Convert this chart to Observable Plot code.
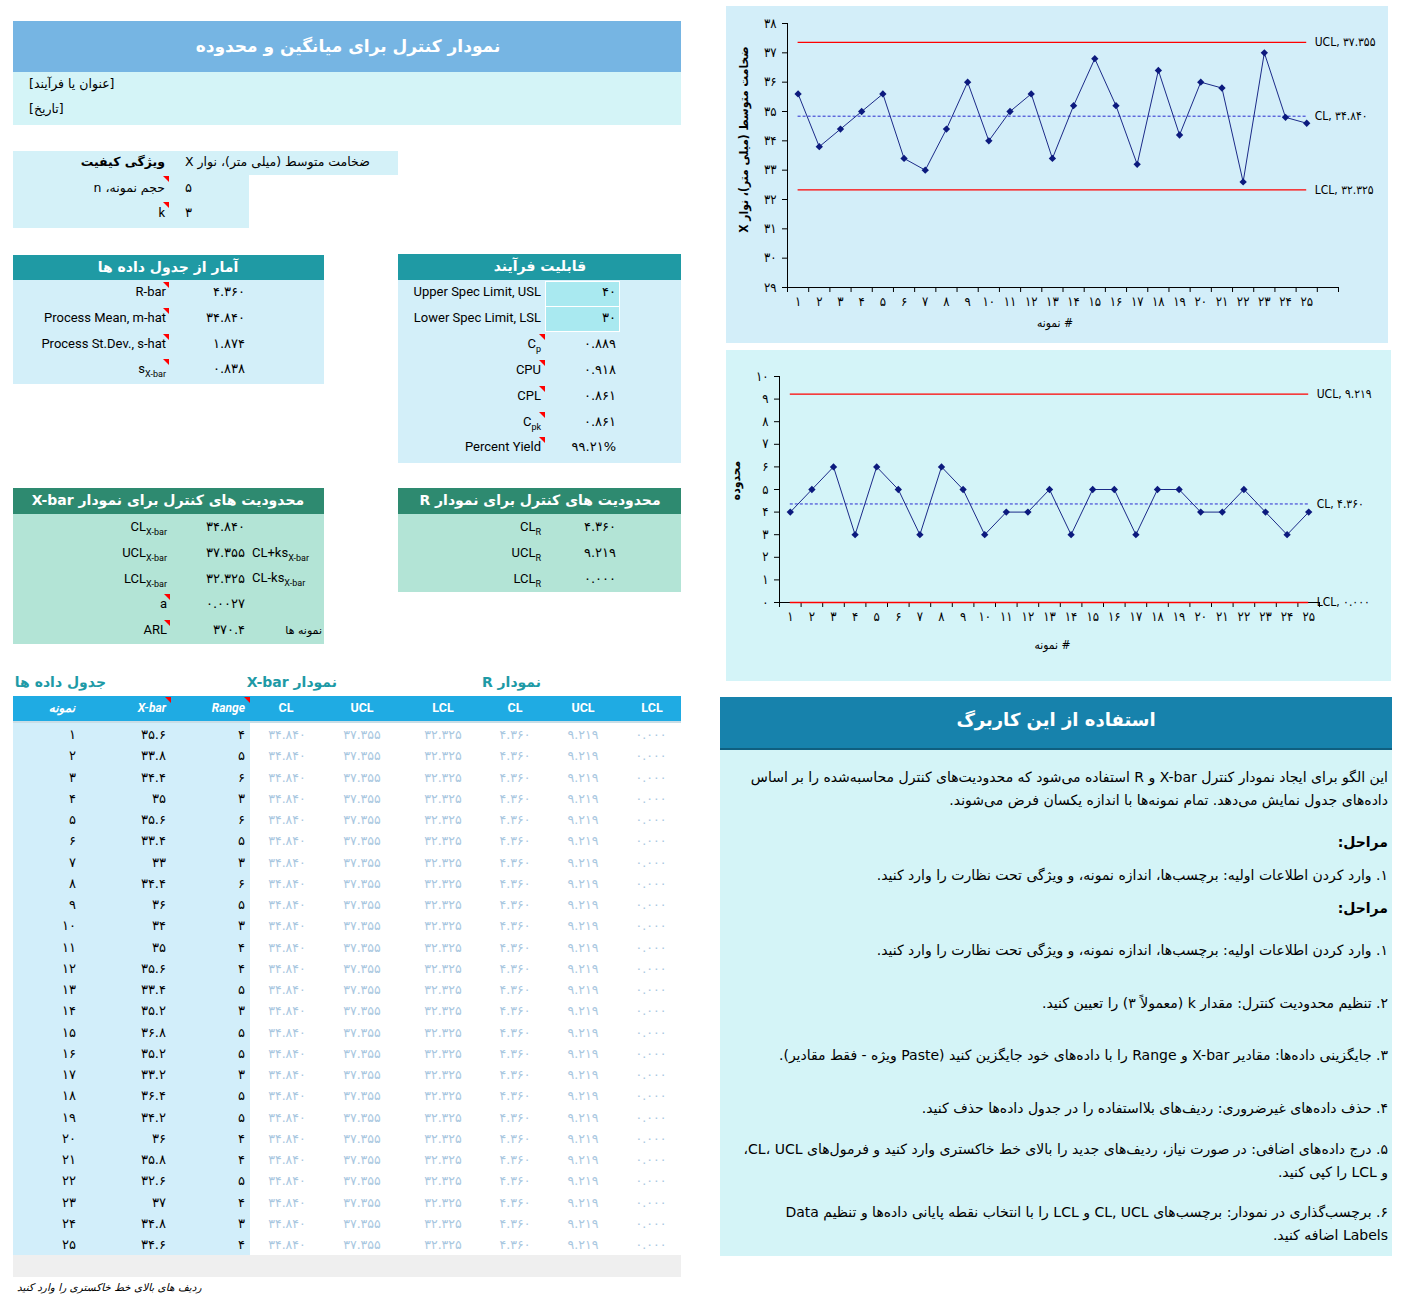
<!DOCTYPE html>
<html lang="fa"><head><meta charset="utf-8">
<script src="https://cdn.jsdelivr.net/npm/d3@7"></script>
<script src="https://cdn.jsdelivr.net/npm/@observablehq/plot@0.6"></script>
<style>
html,body{margin:0;padding:0;background:#fff;}
#page{position:relative;width:1408px;height:1296px;overflow:hidden;font-family:Roboto,"DejaVu Sans",sans-serif;color:#000;}
.t{position:absolute;white-space:nowrap;line-height:20px;height:20px;}
.sub{font-size:9px;position:relative;top:4px;}
.tri{position:absolute;width:0;height:0;border-top:6px solid #ff0000;border-left:6px solid transparent;}
.para{position:absolute;direction:rtl;text-align:right;font-size:14px;line-height:23px;font-family:"DejaVu Sans",sans-serif;}
</style></head><body><div id="page"></div><script>
// ---------- data ----------
const samples = [1,2,3,4,5,6,7,8,9,10,11,12,13,14,15,16,17,18,19,20,21,22,23,24,25];
const xbar = [35.6,33.8,34.4,35,35.6,33.4,33,34.4,36,34,35,35.6,33.4,35.2,36.8,35.2,33.2,36.4,34.2,36,35.8,32.6,37,34.8,34.6];
const range = [4,5,6,3,6,5,3,6,5,3,4,4,5,3,5,5,3,5,5,4,4,5,4,3,4];
const xbarCL = 34.840, xbarUCL = 37.355, xbarLCL = 32.325;
const rCL = 4.360, rUCL = 9.219, rLCL = 0.000;
const sampleSize = 5, kValue = 3;
const statLabels = ["R-bar", "Process Mean, m-hat", "Process St.Dev., s-hat", "s<span class='sub'>X-bar</span>"];
const statValues = ["4.360", "34.840", "1.874", "0.838"];
const capLabels = ["Upper Spec Limit, USL", "Lower Spec Limit, LSL", "C<span class='sub'>p</span>", "CPU", "CPL", "C<span class='sub'>pk</span>", "Percent Yield"];
const capValues = ["40", "30", "0.889", "0.918", "0.861", "0.861", "99.21%"];
const xLimLabels = ["CL<span class='sub'>X-bar</span>", "UCL<span class='sub'>X-bar</span>", "LCL<span class='sub'>X-bar</span>", "a", "ARL"];
const xLimValues = ["34.840", "37.355", "32.325", "0.0027", "370.4"];
const rLimLabels = ["CL<span class='sub'>R</span>", "UCL<span class='sub'>R</span>", "LCL<span class='sub'>R</span>"];
const rLimValues = ["4.360", "9.219", "0.000"];
const xbarYTicks = [29,30,31,32,33,34,35,36,37,38];
const rangeYTicks = [0,1,2,3,4,5,6,7,8,9,10];

const faDigits = "۰۱۲۳۴۵۶۷۸۹";
const fa = v => String(v).replace(/[0-9]/g, d => faDigits[+d]);

// ---------- layout helpers ----------
const PW = 1408;
const page = document.getElementById("page");
function rect(x,y,w,h,bg,css=""){const d=document.createElement("div");d.style.cssText=`position:absolute;left:${x}px;top:${y}px;width:${w}px;height:${h}px;background:${bg};${css}`;page.appendChild(d);return d;}
function text(html,o){const d=document.createElement("div");d.className="t";d.innerHTML=html;const s=d.style;s.fontSize=(o.size||13)+"px";s.top=(o.y-10)+"px";
  if(o.right!=null){s.right=(PW-o.right)+"px";s.textAlign="right";}else if(o.cx!=null){s.left=(o.cx-300)+"px";s.width="600px";s.textAlign="center";}else{s.left=o.x+"px";}
  if(o.rtl)s.direction="rtl";if(o.bold)s.fontWeight="bold";if(o.italic)s.fontStyle="italic";if(o.color)s.color=o.color;if(o.font)s.fontFamily=o.font;page.appendChild(d);return d;}
function tri(right,top){const d=document.createElement("div");d.className="tri";d.style.left=(right-6)+"px";d.style.top=top+"px";page.appendChild(d);}
const FA = '"DejaVu Sans",sans-serif';

// ---------- title ----------
rect(13,21,668,51,"#76b5e3");
text("نمودار کنترل برای میانگین و محدوده",{cx:348,y:46,size:17,bold:true,color:"#fff",rtl:true,font:FA});
rect(13,72,668,53,"#d4f4f7");
text("[عنوان یا فرآیند]",{x:29,y:84,size:12.5,rtl:true,font:FA});
text("[تاریخ]",{x:29,y:109,size:12.5,rtl:true,font:FA});

// ---------- quality box ----------
rect(13,151,236,77,"#d4f1f8");
rect(249,151,149,24,"#d4f1f8");
text("ویژگی کیفیت",{right:165,y:162,size:12.5,bold:true,rtl:true,font:FA});
text("ضخامت متوسط (میلی متر)، نوار X",{x:185,y:162,size:12.5,rtl:true,font:FA});
text("حجم نمونه، n",{right:165,y:188,size:12.5,rtl:true,font:FA});
text(fa(sampleSize),{x:185,y:188,size:13,font:FA});
text("k",{right:165,y:213,size:13});
text(fa(kValue),{x:185,y:213,size:13,font:FA});
tri(169,176); tri(169,202);

// ---------- stats ----------
rect(13,255,311,25,"#1f9aa4");
text("آمار از جدول داده ها",{cx:168,y:267,size:14,bold:true,color:"#fff",rtl:true,font:FA});
rect(13,280,311,104,"#d3eff9");
statLabels.forEach((l,i)=>{const y=292+i*25.8;text(l,{right:166,y,size:13});text(fa(statValues[i]),{right:245,y,size:13,font:FA});tri(169,y-10);});

// ---------- capability ----------
rect(398,254,283,26,"#1f9aa4");
text("قابلیت فرآیند",{cx:540,y:266,size:14,bold:true,color:"#fff",rtl:true,font:FA});
rect(398,280,283,183,"#d3eff9");
rect(545,281,73,24,"#a9e9f0","border:1px solid #fff;");
rect(545,306,73,24,"#a9e9f0","border:1px solid #fff;");
capLabels.forEach((l,i)=>{const y=292+i*25.9;text(l,{right:541,y,size:13});text(fa(capValues[i]),{right:616,y,size:13,font:FA});if(i>=2)tri(545,y-10);});

// ---------- X-bar limits ----------
rect(13,488,311,26,"#2e8a70");
text("محدودیت های کنترل برای نمودار X-bar",{cx:168,y:500,size:14,bold:true,color:"#fff",rtl:true,font:FA});
rect(13,514,311,130,"#b3e4d6");
xLimLabels.forEach((l,i)=>{const y=527+i*25.8;text(l,{right:167,y,size:13});text(fa(xLimValues[i]),{right:245,y,size:13,font:FA});if(i>=3)tri(170,y-10);});
text("CL+ks<span class='sub'>X-bar</span>",{x:252,y:553,size:13});
text("CL-ks<span class='sub'>X-bar</span>",{x:252,y:578,size:13});
text("نمونه ها",{right:322,y:631,size:11,rtl:true,font:FA});

// ---------- R limits ----------
rect(398,488,283,26,"#2e8a70");
text("محدودیت های کنترل برای نمودار R",{cx:540,y:500,size:14,bold:true,color:"#fff",rtl:true,font:FA});
rect(398,514,283,78,"#b3e4d6");
rLimLabels.forEach((l,i)=>{const y=527+i*25.8;text(l,{right:541,y,size:13});text(fa(rLimValues[i]),{right:616,y,size:13,font:FA});});

// ---------- data table ----------
const teal="#1e9aa6";
text("جدول داده ها",{right:106,y:682,size:14,bold:true,color:teal,rtl:true,font:FA});
text("نمودار X-bar",{right:337,y:682,size:14,bold:true,color:teal,rtl:true,font:FA});
text("نمودار R",{right:541,y:682,size:14,bold:true,color:teal,rtl:true,font:FA});
rect(13,696,668,25,"#1fabe3","border-bottom:2px solid #c9dde6;");
text("نمونه",{right:75,y:708,size:12,bold:true,italic:true,color:"#fff",rtl:true,font:FA});
text("X-bar",{right:166,y:708,size:12,bold:true,italic:true,color:"#fff"});
text("Range",{right:245,y:708,size:12,bold:true,italic:true,color:"#fff"});
tri(171,697); tri(250,697);
const hdr=[["CL",286],["UCL",362],["LCL",443],["CL",515],["UCL",583],["LCL",652]];
hdr.forEach(([h,cx])=>text(h,{cx,y:708,size:12.5,bold:true,color:"#fff"}));
rect(13,723,237,532,"#d2eefa");
const faded="#a9c7df";
const fadedVals=[[xbarCL,287],[xbarUCL,362],[xbarLCL,443],[rCL,515],[rUCL,583],[rLCL,651]];
samples.forEach((s,i)=>{const y=735+i*21.25;
  text(fa(s),{right:76,y,size:13,font:FA});
  text(fa(xbar[i]),{right:166,y,size:13,font:FA});
  text(fa(range[i]),{right:245,y,size:13,font:FA});
  fadedVals.forEach(([v,cx])=>text(fa(v.toFixed(3)),{cx,y,size:12.5,color:faded,font:FA}));
});
rect(13,1255,668,22,"#efefef");
text("ردیف های بالای خط خاکستری را وارد کنید",{x:17,y:1287,size:10.5,italic:true,rtl:true,font:FA});

// ---------- instructions ----------
rect(720,697,672,51,"#1782ac","border-bottom:2px solid #0f5f80;");
text("استفاده از این کاربرگ",{cx:1056,y:720,size:18,bold:true,color:"#fff",rtl:true,font:FA});
rect(720,750,672,506,"#d4f4f7");
function para(html,top,bold){const d=document.createElement("div");d.className="para";d.innerHTML=html;d.style.top=top+"px";d.style.right=(PW-1388)+"px";d.style.width="648px";if(bold)d.style.fontWeight="bold";page.appendChild(d);}
para("این الگو برای ایجاد نمودار کنترل X-bar و R استفاده می‌شود که محدودیت‌های کنترل محاسبه‌شده را بر اساس داده‌های جدول نمایش می‌دهد. تمام نمونه‌ها با اندازه یکسان فرض می‌شوند.",766);
para("مراحل:",831,true);
para("۱. وارد کردن اطلاعات اولیه: برچسب‌ها، اندازه نمونه، و ویژگی تحت نظارت را وارد کنید.",864);
para("مراحل:",897,true);
para("۱. وارد کردن اطلاعات اولیه: برچسب‌ها، اندازه نمونه، و ویژگی تحت نظارت را وارد کنید.",939);
para("۲. تنظیم محدودیت کنترل: مقدار k (معمولاً ۳) را تعیین کنید.",992);
para("۳. جایگزینی داده‌ها: مقادیر X-bar و Range را با داده‌های خود جایگزین کنید (Paste ویژه - فقط مقادیر).",1044);
para("۴. حذف داده‌های غیرضروری: ردیف‌های بلااستفاده را در جدول داده‌ها حذف کنید.",1097);
para("۵. درج داده‌های اضافی: در صورت نیاز، ردیف‌های جدید را بالای خط خاکستری وارد کنید و فرمول‌های CL، UCL، و LCL را کپی کنید.",1138);
para("۶. برچسب‌گذاری در نمودار: برچسب‌های CL, UCL و LCL را با انتخاب نقطه پایانی داده‌ها و تنظیم Data Labels اضافه کنید.",1201);

// ---------- charts ----------
const CF = '"DejaVu Sans Condensed","DejaVu Sans",sans-serif';
function fixRTL(svg){d3.select(svg).selectAll("text").each(function(){if(/[\u0621-\u064A\u067E\u0686\u0698\u06A9\u06AF\u06CC]/.test(this.textContent))this.setAttribute("direction","rtl");});}
function controlChart({values, yDomain, yTicks, cl, ucl, lcl, nBands, width, height, mL, mR, mT, mB, yTitle, yTitleDy, xTitleDy, xTitleDx}){
  const data = samples.map((s,i)=>({s, v: values[i]}));
  const first = samples[0], last = samples[samples.length-1];
  const lim = [{y:ucl},{y:lcl}];
  const labels = [{y:ucl,t:"UCL, "+fa(ucl.toFixed(3))},{y:cl,t:"CL, "+fa(cl.toFixed(3))},{y:lcl,t:"LCL, "+fa(lcl.toFixed(3))}];
  return Plot.plot({
    width, height, marginLeft:mL, marginRight:mR, marginTop:mT, marginBottom:mB,
    style:{background:"transparent",fontFamily:CF,fontSize:"12px",color:"#000",overflow:"visible"},
    x:{type:"linear",domain:[0.5,nBands+0.5]},
    y:{domain:yDomain},
    marks:[
      Plot.axisY({ticks:yTicks,tickSize:5,tickPadding:6,tickFormat:fa,label:null,fontSize:13}),
      Plot.axisX({ticks:d3.range(0.5,nBands+1,1),tickSize:5,tickFormat:()=>"",label:null}),
      Plot.axisX({ticks:samples,tickSize:0,tickPadding:9,tickFormat:fa,label:null,fontSize:13}),
      Plot.ruleX([0.5],{stroke:"#000"}),
      Plot.ruleY([{y:yDomain[0],x1:0.5,x2:nBands+0.5}],{y:"y",x1:"x1",x2:"x2",stroke:"#000"}),
      Plot.ruleY(lim,{y:"y",x1:()=>first,x2:()=>last,stroke:"#ff0000",strokeWidth:1.3}),
      Plot.ruleY([{y:cl}],{y:"y",x1:()=>first,x2:()=>last,stroke:"#2a2ad0",strokeWidth:1,strokeDasharray:"3,2"}),
      Plot.line(data,{x:"s",y:"v",stroke:"#1b2a88",strokeWidth:1}),
      Plot.dot(data,{x:"s",y:"v",symbol:"diamond2",r:3.3,fill:"#0c1a7e",stroke:"none"}),
      Plot.text(labels,{x:()=>last,y:"y",text:"t",dx:8,textAnchor:"start",fontSize:12,fill:"#000"}),
      Plot.text([yTitle],{frameAnchor:"left",textAnchor:"middle",rotate:-90,dx:-43,dy:yTitleDy,fontWeight:"bold",fontSize:12,fill:"#000"}),
      Plot.text(["# نمونه"],{frameAnchor:"bottom",textAnchor:"middle",dy:xTitleDy,dx:xTitleDx,fontSize:12,fill:"#000"})
    ]
  });
}
function mount(svg,x,y){svg.style.position="absolute";svg.style.left=x+"px";svg.style.top=y+"px";fixRTL(svg);page.appendChild(svg);}

rect(726,6,662,337,"#d3eef9");
const c1 = controlChart({values:xbar,yDomain:[29,38],yTicks:xbarYTicks,cl:xbarCL,ucl:xbarUCL,lcl:xbarLCL,nBands:26,
  width:662,height:337,mL:61,mR:50,mT:17,mB:56,yTitle:"ضخامت متوسط (میلی متر)، نوار X",yTitleDy:-16,xTitleDy:39,xTitleDx:-8});
mount(c1,726,6);

rect(726,350,665,331,"#d4f4f8");
const c2 = controlChart({values:range,yDomain:[0,10],yTicks:rangeYTicks,cl:rCL,ucl:rUCL,lcl:rLCL,nBands:25,
  width:665,height:331,mL:53,mR:72,mT:26,mB:79,yTitle:"محدوده",yTitleDy:-9,xTitleDy:46,xTitleDx:3});
mount(c2,726,350);
</script></body></html>
